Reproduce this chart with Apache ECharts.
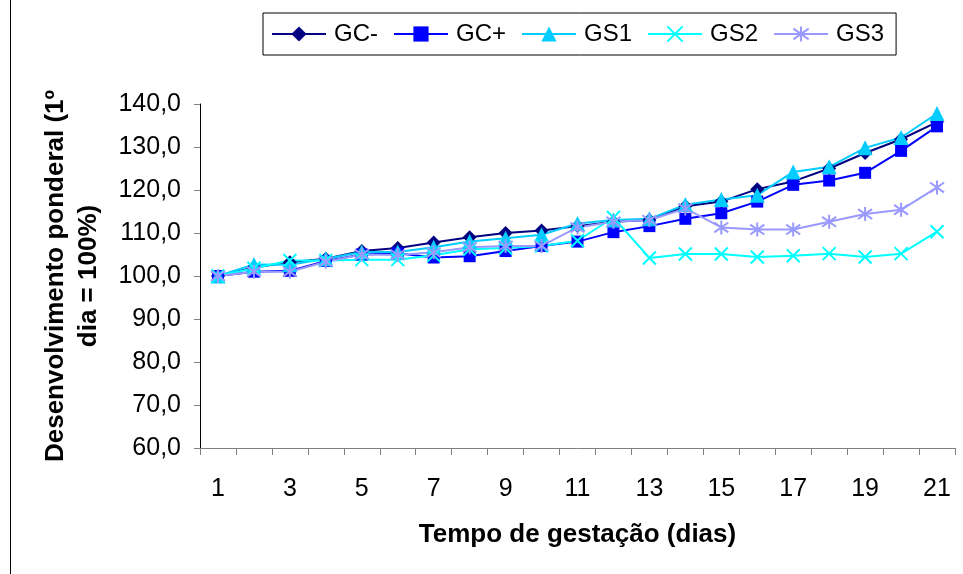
<!DOCTYPE html>
<html>
<head>
<meta charset="utf-8">
<script src="https://cdn.jsdelivr.net/npm/echarts@6/dist/echarts.min.js"></script>
<style>
  html, body { margin: 0; padding: 0; background: #fff; }
  #chart { width: 963px; height: 574px; }
</style>
</head>
<body>
<div id="chart"></div>
<script>
// Gestation days 1..21
const days = ['1','2','3','4','5','6','7','8','9','10','11','12','13','14','15','16','17','18','19','20','21'];

// Weight development, % of day-1 weight
const gcMinus = [100, 102.0, 103.2, 104.0, 105.8, 106.5, 107.8, 109.0, 110.0, 110.6, 111.6, 112.6, 113.0, 116.2, 117.3, 120.2, 122.0, 125.0, 128.6, 131.8, 135.8];
const gcPlus  = [100, 101.0, 101.2, 103.5, 105.0, 105.3, 104.3, 104.6, 105.8, 107.0, 108.0, 110.2, 111.6, 113.3, 114.6, 117.3, 121.2, 122.2, 124.0, 129.1, 134.8];
const gs1     = [100, 102.7, 102.6, 104.0, 105.6, 105.6, 106.7, 108.0, 108.8, 109.6, 112.2, 113.0, 113.3, 116.6, 117.8, 118.8, 124.2, 125.4, 129.8, 132.2, 137.8];
const gs2     = [100, 101.8, 103.6, 103.6, 103.8, 103.8, 104.8, 106.2, 106.5, 107.0, 108.2, 113.6, 104.2, 105.1, 105.1, 104.4, 104.7, 105.2, 104.4, 105.2, 110.3];
const gs3     = [100, 101.0, 101.0, 103.3, 105.0, 104.9, 105.5, 106.7, 107.0, 107.0, 111.3, 112.6, 113.0, 115.7, 111.3, 110.8, 110.8, 112.6, 114.4, 115.4, 120.6];

const FONT = '"Liberation Sans", Arial, sans-serif';
const crossPath = 'path://M0,0L10,10M10,0L0,10';
const starPath = 'path://M5,0L5,10M1.5,1.5L8.5,8.5M8.5,1.5L1.5,8.5';

function lineSeries(name, data, color, symbol, size, stroked) {
  return {
    name: name,
    type: 'line',
    data: data,
    symbol: symbol,
    symbolSize: size,
    showAllSymbol: true,
    lineStyle: { color: color, width: 2 },
    itemStyle: stroked
      ? { color: 'rgba(0,0,0,0)', borderColor: color, borderWidth: 2 }
      : { color: color, borderWidth: 0 },
    emphasis: { disabled: true },
    animation: false
  };
}

const chart = echarts.init(document.getElementById('chart'), null, { renderer: 'canvas' });
chart.setOption({
  backgroundColor: '#fff',
  textStyle: { fontFamily: FONT },
  legend: {
    left: 263,
    top: 13,
    padding: [9, 12, 9, 8],
    borderColor: '#000',
    borderWidth: 1,
    itemWidth: 54,
    itemHeight: 19,
    itemGap: 15,
    textStyle: { fontFamily: FONT, fontSize: 24, color: '#000', padding: [0, 0, 0, 3] },
    data: ['GC-', 'GC+', 'GS1', 'GS2', 'GS3']
  },
  grid: { left: 200, top: 104, right: 8, bottom: 126 },
  xAxis: {
    type: 'category',
    data: days,
    boundaryGap: true,
    name: 'Tempo de gestação (dias)',
    nameLocation: 'middle',
    nameGap: 74,
    nameTextStyle: { fontFamily: FONT, fontSize: 26, fontWeight: 'bold', color: '#000' },
    axisLine: { lineStyle: { color: '#808080', width: 1 } },
    axisTick: { show: true, interval: 0, length: 7, lineStyle: { color: '#808080' } },
    axisLabel: { interval: 1, margin: 29, fontFamily: FONT, fontSize: 25, color: '#000' },
    splitLine: { show: false }
  },
  yAxis: {
    type: 'value',
    min: 60,
    max: 140,
    interval: 10,
    name: 'Desenvolvimento ponderal (1º\ndia = 100%)',
    nameLocation: 'middle',
    nameRotate: 90,
    nameGap: 95,
    nameTextStyle: { fontFamily: FONT, fontSize: 26, fontWeight: 'bold', color: '#000', lineHeight: 33, align: 'center' },
    axisLine: { show: true, lineStyle: { color: '#000', width: 1 } },
    axisTick: { show: true, length: 6, lineStyle: { color: '#808080' } },
    axisLabel: {
      margin: 19,
      fontFamily: FONT,
      fontSize: 25,
      color: '#000',
      formatter: v => v.toFixed(1).replace('.', ',')
    },
    splitLine: { show: false }
  },
  series: [
    lineSeries('GC-', gcMinus, '#000080', 'diamond', 14, false),
    lineSeries('GC+', gcPlus, '#0000FF', 'rect', 12, false),
    lineSeries('GS1', gs1, '#00CCFF', 'triangle', 15, false),
    lineSeries('GS2', gs2, '#00FFFF', crossPath, 13, true),
    lineSeries('GS3', gs3, '#9999FF', starPath, 14, true)
  ],
  graphic: [
    { type: 'line', shape: { x1: 10.5, y1: 0, x2: 10.5, y2: 574 }, style: { stroke: '#000', lineWidth: 1 } }
  ]
});
</script>
</body>
</html>
